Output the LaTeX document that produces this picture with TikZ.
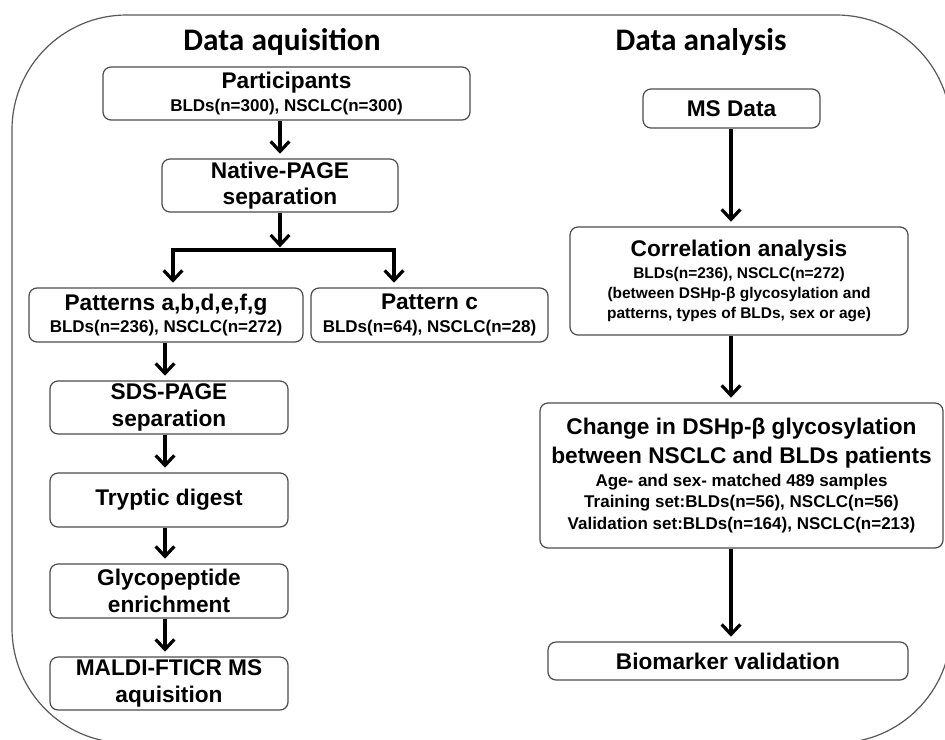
\documentclass[tikz,border=0pt]{standalone}
\usepackage{fontspec}
\setmainfont{Liberation Sans}
\newfontfamily\titlefont{Carlito}
\usetikzlibrary{arrows.meta}
\newcommand\mainf{\fontsize{17}{20}\selectfont}
\begin{document}
\begin{tikzpicture}[x=0.75pt,y=-0.75pt,
  frame/.style={draw=black!65, line width=0.9pt, rounded corners=86pt},
  box/.style={draw=black!70, line width=0.9pt, rounded corners=6pt, align=center,
    inner sep=0pt, font=\bfseries\fontsize{12.75}{16}\selectfont},
  corrbox/.style={box, font=\bfseries\fontsize{11.6}{15}\selectfont},
  ttl/.style={anchor=base, font=\titlefont\bfseries\fontsize{23.5}{28}\selectfont},
  tip/.tip={Straight Barb[length=7.5pt,width=14pt]},
  arr/.style={line width=2.4pt, -tip, shorten >=3.5pt},
  arrtwo/.style={line width=2.4pt, tip-tip, shorten >=3.5pt, shorten <=3.5pt}]
\clip (0,0) rectangle (945,739);
\fill[white] (0,0) rectangle (945,739);
\draw[frame] (12,15) rectangle (951,743);

\node[ttl] (t1) at (282,50) {Data aquisition};
\node[ttl] (t2) at (701,50) {Data analysis};

% left column
\node[box, minimum width=275.25pt, minimum height=39.75pt] (part) at (286.5,93.5)
  {{\mainf Participants}\\[1.2pt] BLDs(n=300), NSCLC(n=300)};
\node[box, minimum width=177pt, minimum height=39.75pt] (native) at (280,185.5)
  {\mainf Native-PAGE\\[4pt] \mainf separation};
\node[box, minimum width=205.5pt, minimum height=40.5pt] (pat) at (166,315)
  {{\mainf Patterns a,b,d,e,f,g}\\[0.6pt] BLDs(n=236), NSCLC(n=272)};
\node[box, minimum width=177.75pt, minimum height=40.5pt] (patc) at (429.5,315)
  {{\mainf Pattern c}\\[0.6pt] BLDs(n=64), NSCLC(n=28)};
\node[box, minimum width=178.5pt, minimum height=39.75pt] (sds) at (169,407.5)
  {\mainf SDS-PAGE\\[4pt] \mainf separation};
\node[box, minimum width=178.5pt, minimum height=40.5pt] (tryp) at (169,500)
  {\mainf Tryptic digest};
\node[box, minimum width=178.5pt, minimum height=40.5pt] (glyco) at (169,591)
  {\mainf Glycopeptide\\[4pt] \mainf enrichment};
\node[box, minimum width=178.5pt, minimum height=39.75pt] (maldi) at (169,683.5)
  {\mainf MALDI-FTICR MS\\[4pt] \mainf aquisition};

\coordinate (bar) at (280,250);
\coordinate (bl) at (173,250);
\coordinate (br) at (394,250);
\coordinate (colx) at (165,0);

\draw[arr] (native.north |- part.south) -- (native.north);
\draw[arr, shorten >=2pt] (native.south) -- (bar);
\draw[arrtwo] (pat.north -| bl) -- (bl) -- (br) -- (patc.north -| br);
\draw[arr] (pat.south -| colx) -- (sds.north -| colx);
\draw[arr] (sds.south -| colx) -- (tryp.north -| colx);
\draw[arr] (tryp.south -| colx) -- (glyco.north -| colx);
\draw[arr] (glyco.south -| colx) -- (maldi.north -| colx);

% right column
\node[box, minimum width=132.75pt, minimum height=29.25pt] (ms) at (731.5,108.5) {\mainf MS Data};
\node[corrbox, minimum width=253.5pt, minimum height=81pt] (corr) at (739,281)
  {{\mainf Correlation analysis}\\[2pt]
  BLDs(n=236), NSCLC(n=272)\\ (between DSHp-β glycosylation and\\ patterns, types of BLDs, sex or age)};
\node[box, minimum width=302.25pt, minimum height=108.75pt] (change) at (741.5,475.5)
  {{\mainf Change in DSHp-β glycosylation}\\[5.5pt]
  {\mainf between NSCLC and BLDs patients}\\[1.2pt]
  Age- and sex- matched 489 samples\\ Training set:BLDs(n=56), NSCLC(n=56)\\ Validation set:BLDs(n=164), NSCLC(n=213)};
\node[box, minimum width=270pt, minimum height=28.5pt] (bio) at (728,661) {\mainf Biomarker validation};

\coordinate (colr) at (731,0);
\draw[arr] (ms.south -| colr) -- (corr.north -| colr);
\draw[arr] (corr.south -| colr) -- (change.north -| colr);
\draw[arr] (change.south -| colr) -- (bio.north -| colr);
\end{tikzpicture}
\end{document}
